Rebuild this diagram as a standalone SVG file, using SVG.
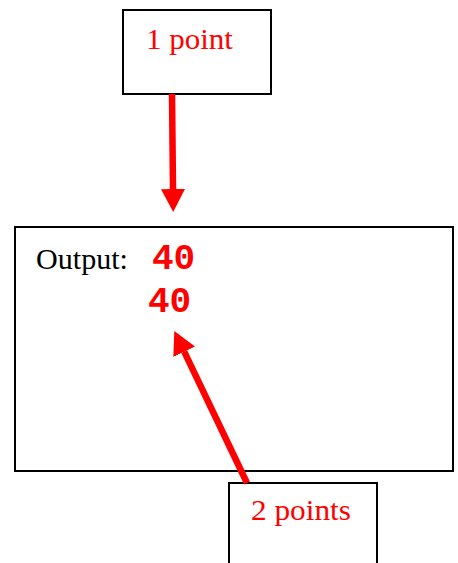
<svg xmlns="http://www.w3.org/2000/svg" width="458" height="563" viewBox="0 0 458 563">
<style>
.box{fill:#fff;stroke:#000;stroke-width:2}
.lbl{font-family:"Liberation Serif","Times New Roman",serif;font-size:29px}
.red{fill:#ff0000}
.code{font-family:"Liberation Mono","Courier New",monospace;font-weight:bold;font-size:36px;fill:#ff0000}
.arr{stroke:#ff0000;stroke-width:6.5;fill:none}
</style>
<defs>
<marker id="head" markerUnits="userSpaceOnUse" markerWidth="26" markerHeight="26" viewBox="0 -13 26 26" refX="0" refY="0" orient="auto">
<path d="M0,-12 L23,0 L0,12 z" fill="#ff0000"/>
</marker>
</defs>
<rect width="458" height="563" fill="#fff"/>
<g id="node-output">
<rect class="box" x="15" y="227" width="438" height="244"/>
<text class="lbl" x="36" y="269" fill="#000" textLength="92" lengthAdjust="spacingAndGlyphs">Output:</text>
<text class="code" x="152" y="269">40</text>
<text class="code" x="148" y="312">40</text>
</g>
<g id="node-1point">
<rect class="box" x="123" y="10" width="148" height="84"/>
<text class="lbl red" x="146" y="49" textLength="87" lengthAdjust="spacingAndGlyphs">1 point</text>
</g>
<g id="node-2points">
<rect class="box" x="229" y="483" width="148" height="90"/>
<text class="lbl red" x="251" y="520" textLength="100" lengthAdjust="spacingAndGlyphs">2 points</text>
</g>
<g id="connectors">
<line class="arr" x1="172" y1="94" x2="173" y2="189" marker-end="url(#head)"/>
<line class="arr" x1="247" y1="483" x2="184.2" y2="351.7" marker-end="url(#head)"/>
</g>
</svg>
